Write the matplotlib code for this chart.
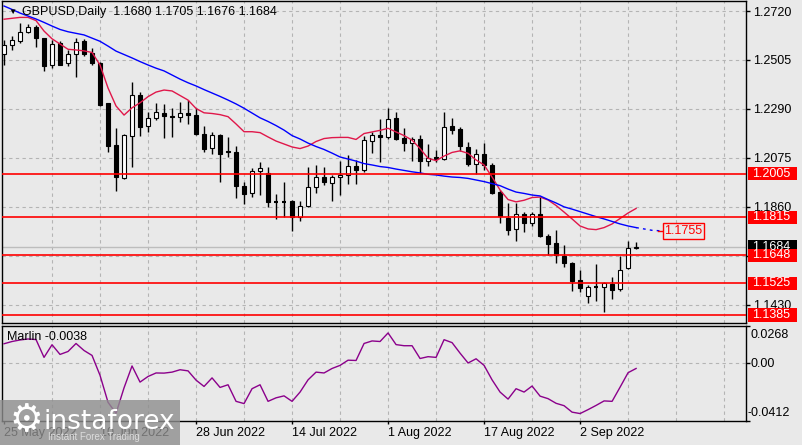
import matplotlib
matplotlib.use('Agg')
import matplotlib.pyplot as plt
from matplotlib.patches import Rectangle
import numpy as np

plt.rcParams['font.family'] = ['Liberation Sans', 'DejaVu Sans']

# GBPUSD daily, 25 May 2022 .. 13 Sep 2022 (one bar per trading day)
date_labels = ['25 May 2022', '10 Jun 2022', '28 Jun 2022', '14 Jul 2022',
               '1 Aug 2022', '17 Aug 2022', '2 Sep 2022']

opens = [1.2531, 1.2569, 1.2590, 1.2629, 1.2648, 1.2600, 1.2481, 1.2578, 1.2490, 1.2530,
         1.2590, 1.2537, 1.2493, 1.2315, 1.2132, 1.1985, 1.2172, 1.2351, 1.2215, 1.2249,
         1.2273, 1.2258, 1.2256, 1.2273, 1.2263, 1.2180, 1.2117, 1.2175, 1.2106, 1.2101,
         1.1951, 1.1919, 1.2016, 1.2007, 1.1884, 1.1884, 1.1884, 1.1817, 1.1864, 1.1946,
         1.1990, 1.1966, 1.1990, 1.1999, 1.2039, 1.2022, 1.2150, 1.2175, 1.2165, 1.2249,
         1.2161, 1.2142, 1.2156, 1.2062, 1.2077, 1.2070, 1.2215, 1.2200, 1.2121, 1.2048,
         1.2092, 1.2044, 1.1926, 1.1810, 1.1761, 1.1828, 1.1790, 1.1828, 1.1732, 1.1702,
         1.1644, 1.1615, 1.1539, 1.1470, 1.1508, 1.1509, 1.1521, 1.1498, 1.1590, 1.1680]
highs = [1.2593, 1.2610, 1.2666, 1.2663, 1.2659, 1.2603, 1.2593, 1.2590, 1.2549, 1.2600,
         1.2596, 1.2559, 1.2497, 1.2317, 1.2207, 1.2178, 1.2410, 1.2364, 1.2278, 1.2315,
         1.2312, 1.2293, 1.2322, 1.2329, 1.2293, 1.2215, 1.2190, 1.2180, 1.2165, 1.2127,
         1.1970, 1.2029, 1.2056, 1.2033, 1.1915, 1.1968, 1.1890, 1.1887, 1.2036, 1.2042,
         1.2036, 1.2000, 1.2062, 1.2088, 1.2066, 1.2171, 1.2190, 1.2244, 1.2293, 1.2278,
         1.2205, 1.2168, 1.2175, 1.2136, 1.2110, 1.2278, 1.2249, 1.2212, 1.2146, 1.2113,
         1.2139, 1.2052, 1.1934, 1.1875, 1.1875, 1.1839, 1.1839, 1.1904, 1.1741, 1.1758,
         1.1692, 1.1618, 1.1582, 1.1516, 1.1608, 1.1531, 1.1553, 1.1644, 1.1710, 1.1705]
lows = [1.2483, 1.2549, 1.2578, 1.2622, 1.2561, 1.2458, 1.2468, 1.2481, 1.2478, 1.2429,
        1.2522, 1.2483, 1.2303, 1.2102, 1.1931, 1.1982, 1.2036, 1.2171, 1.2190, 1.2241,
        1.2161, 1.2168, 1.2234, 1.2224, 1.2175, 1.2102, 1.2091, 1.1970, 1.2080, 1.1897,
        1.1872, 1.1905, 1.1912, 1.1860, 1.1805, 1.1817, 1.1755, 1.1798, 1.1860, 1.1922,
        1.1954, 1.1887, 1.1912, 1.1960, 1.1960, 1.2014, 1.2098, 1.2058, 1.2156, 1.2154,
        1.2106, 1.2062, 1.2007, 1.2039, 1.2058, 1.2066, 1.2180, 1.2106, 1.2039, 1.2004,
        1.2022, 1.1916, 1.1788, 1.1736, 1.1711, 1.1751, 1.1776, 1.1729, 1.1648, 1.1615,
        1.1594, 1.1492, 1.1487, 1.1439, 1.1448, 1.1399, 1.1455, 1.1492, 1.1585, 1.1676]
closes = [1.2571, 1.2593, 1.2629, 1.2648, 1.2600, 1.2480, 1.2575, 1.2484, 1.2531, 1.2585,
          1.2530, 1.2490, 1.2307, 1.2128, 1.1990, 1.2175, 1.2351, 1.2212, 1.2249, 1.2275,
          1.2260, 1.2254, 1.2271, 1.2262, 1.2178, 1.2115, 1.2174, 1.2093, 1.2099, 1.1953,
          1.1916, 1.2016, 1.2029, 1.1882, 1.1883, 1.1883, 1.1817, 1.1864, 1.1946, 1.1990,
          1.1970, 1.1992, 1.2000, 1.2039, 1.2022, 1.2153, 1.2175, 1.2168, 1.2244, 1.2158,
          1.2142, 1.2156, 1.2062, 1.2073, 1.2069, 1.2209, 1.2197, 1.2127, 1.2048, 1.2092,
          1.2044, 1.1922, 1.1820, 1.1758, 1.1828, 1.1790, 1.1828, 1.1732, 1.1697, 1.1648,
          1.1615, 1.1535, 1.1502, 1.1509, 1.1510, 1.1524, 1.1495, 1.1582, 1.1678, 1.1684]

ma_red = [1.2684, 1.2688, 1.2692, 1.2692, 1.2678, 1.2632, 1.2598, 1.2575, 1.2552, 1.2549,
          1.2545, 1.2538, 1.2483, 1.2382, 1.2303, 1.2263, 1.2295, 1.2317, 1.2344, 1.2364,
          1.2373, 1.2369, 1.2349, 1.2329, 1.2292, 1.2273, 1.2270, 1.2265, 1.2256, 1.2224,
          1.2190, 1.2190, 1.2186, 1.2167, 1.2149, 1.2136, 1.2123, 1.2116, 1.2127, 1.2147,
          1.2160, 1.2164, 1.2165, 1.2165, 1.2156, 1.2182, 1.2189, 1.2196, 1.2205, 1.2189,
          1.2173, 1.2153, 1.2116, 1.2073, 1.2063, 1.2083, 1.2099, 1.2106, 1.2095, 1.2066,
          1.2044, 1.1991, 1.1934, 1.1892, 1.1882, 1.1889, 1.1901, 1.1903, 1.1890, 1.1866,
          1.1837, 1.1807, 1.1776, 1.1763, 1.1760, 1.1769, 1.1785, 1.1809, 1.1833, 1.1853]
# blue MA is shifted 3 bars forward
ma_blue = [1.2742, 1.2727, 1.2711, 1.2698, 1.2685, 1.2670, 1.2654, 1.2639, 1.2629, 1.2622,
           1.2615, 1.2601, 1.2587, 1.2566, 1.2544, 1.2529, 1.2514, 1.2498, 1.2483, 1.2469,
           1.2457, 1.2439, 1.2421, 1.2405, 1.2391, 1.2375, 1.2360, 1.2345, 1.2329, 1.2312,
           1.2293, 1.2272, 1.2251, 1.2235, 1.2217, 1.2197, 1.2173, 1.2158, 1.2140, 1.2125,
           1.2112, 1.2096, 1.2079, 1.2070, 1.2061, 1.2050, 1.2044, 1.2037, 1.2033, 1.2026,
           1.2020, 1.2014, 1.2009, 1.2003, 1.2000, 1.1995, 1.1991, 1.1989, 1.1985, 1.1978,
           1.1971, 1.1962, 1.1953, 1.1938, 1.1925, 1.1919, 1.1912, 1.1908, 1.1892, 1.1877,
           1.1860, 1.1850, 1.1839, 1.1828, 1.1817, 1.1807, 1.1796, 1.1785, 1.1776, 1.1769,
           1.1763, 1.1757, 1.1755]

marlin = [0.0138, 0.0154, 0.0165, 0.0172, 0.0168, 0.0041, 0.0131, 0.0062, 0.0083, 0.0140,
          0.0090, 0.0055, -0.0087, -0.0279, -0.0357, -0.0176, -0.0020, -0.0135, -0.0095, -0.0070,
          -0.0071, -0.0064, -0.0047, -0.0055, -0.0121, -0.0166, -0.0105, -0.0173, -0.0154, -0.0272,
          -0.0288, -0.0182, -0.0154, -0.0272, -0.0247, -0.0233, -0.0272, -0.0206, -0.0119, -0.0064,
          -0.0070, -0.0038, -0.0016, 0.0021, 0.0019, 0.0140, 0.0158, 0.0154, 0.0215, 0.0132,
          0.0124, 0.0124, 0.0033, 0.0046, 0.0041, 0.0167, 0.0146, 0.0071, 0.0001, 0.0031,
          -0.0016, -0.0119, -0.0206, -0.0256, -0.0182, -0.0206, -0.0163, -0.0235, -0.0253, -0.0286,
          -0.0303, -0.0349, -0.0359, -0.0331, -0.0301, -0.0269, -0.0272, -0.0171, -0.0068, -0.0038]

levels = [1.2005, 1.1815, 1.1648, 1.1525, 1.1385]
bid = 1.1684
ma_label = 1.1755
price_ticks = [1.1430, 1.1645, 1.1860, 1.2075, 1.2290, 1.2505, 1.2720]
price_tick_labels = ['1.1430', '', '1.1860', '1.2075', '1.2290', '1.2505', '1.2720']

W, H = 803, 445
bg = '#e9e9e9'
fig = plt.figure(figsize=(W / 100, H / 100), dpi=100, facecolor=bg)


def px_axes(x0, y0, x1, y1):
    return fig.add_axes([x0 / W, 1 - y1 / H, (x1 - x0) / W, (y1 - y0) / H])


ax = px_axes(2.5, 1, 746.5, 323)
ax2 = px_axes(2.5, 325.5, 746.5, 421)
for a in (ax, ax2):
    a.set_facecolor(bg)
    for s in a.spines.values():
        s.set_color('black')
        s.set_linewidth(1)
    a.set_xlim(-0.19, 92.8)
    for g in range(6, 93, 6):
        a.axvline(g, color='#b4b4b4', ls=(0, (3, 3)), lw=0.8, zorder=0)

n = len(opens)
x = np.arange(n)
o = np.array(opens); c = np.array(closes); h = np.array(highs); l = np.array(lows)

# candles
ax.vlines(x, l, h, color='black', lw=1, zorder=3)
up = c >= o
body_lo = np.minimum(o, c)
body_h = np.abs(c - o)
doji = body_h < 0.00035
ax.bar(x[~doji], body_h[~doji], bottom=body_lo[~doji], width=0.5,
       color=np.where(up[~doji], 'white', 'black'), edgecolor='black', lw=0.8, zorder=3)
ax.hlines(c[doji], x[doji] - 0.3, x[doji] + 0.3, color='black', lw=1.5, zorder=3)

# moving averages
ax.plot(x, ma_red, color='#e0174a', lw=1, zorder=4)
xb = np.arange(len(ma_blue))
ax.plot(xb[:n], ma_blue[:n], color='#0000ff', lw=1, zorder=4)
ax.plot(xb[n - 1:], ma_blue[n - 1:], color='#0000ff', lw=1, ls=(0, (2, 3)), zorder=4)
ax.plot([xb[-1] - 0.2, xb[-1] + 0.45], [ma_label, ma_label], color='red', lw=1, zorder=6)
ax.text(xb[-1] + 0.55, ma_label, f'{ma_label:.4f}', color='red', fontsize=9,
        va='center', ha='left', zorder=7,
        bbox=dict(boxstyle='square,pad=0.15', fc=bg, ec='red', lw=1))

# levels
ax.axhline(bid, color='#bdbdbd', lw=1, zorder=2)
for lv in levels:
    ax.axhline(lv, color='#ff0000', lw=1.2, zorder=5)

ax.set_ylim(1.1350, 1.2764)
ax.set_xticks([])
ax.yaxis.tick_right()
ax.set_yticks(price_ticks)
ax.set_yticklabels(price_tick_labels)
ax.tick_params(axis='y', length=3, width=1, pad=1.5, labelsize=9)
ax.grid(axis='y', color='#b4b4b4', ls=(0, (3, 3)), lw=0.8)
ax.set_axisbelow(True)

ytr = ax.get_yaxis_transform()
box_x = (748 - 2.5) / 744
box_w = 49 / 744
box_h = 0.0058
ax.add_patch(Rectangle((box_x, bid - box_h / 2), box_w, box_h, transform=ytr,
                       fc='black', ec='none', clip_on=False, zorder=6))
ax.text(box_x + 0.006, bid, f'{bid:.4f}', transform=ytr, color='white', fontsize=9,
        va='center', ha='left', clip_on=False, zorder=7)
for lv in levels:
    ax.add_patch(Rectangle((box_x, lv - box_h / 2), box_w, box_h, transform=ytr,
                           fc='#ff0000', ec='none', clip_on=False, zorder=8))
    ax.text(box_x + 0.006, lv, f'{lv:.4f}', transform=ytr, color='white', fontsize=9,
            va='center', ha='left', clip_on=False, zorder=9)

# Marlin panel
ax2.plot(x, marlin, color='#8b008b', lw=1, zorder=3)
ax2.axhline(0, color='#b4b4b4', ls=(0, (3, 3)), lw=0.8, zorder=0)
ax2.set_ylim(-0.0412, 0.0268)
ax2.yaxis.tick_right()
ax2.set_yticks([-0.0412, 0.0, 0.0268])
ax2.set_yticklabels(['', '', ''])
ax2.tick_params(axis='y', length=3, width=1)
ax2.set_xticks(np.arange(0, 73, 12))
ax2.set_xticklabels(date_labels, fontsize=9)
for t in ax2.get_xticklabels():
    t.set_ha('left')
ax2.tick_params(axis='x', length=2.5, width=1, pad=2)

fig.text(751 / W, 1 - 335 / H, '0.0268', fontsize=9, va='center', ha='left')
fig.text(751 / W, 1 - 364 / H, '0.00', fontsize=9, va='center', ha='left')
fig.text(748 / W, 1 - 413 / H, '-0.0412', fontsize=9, va='center', ha='left')
fig.text(7 / W, 1 - 337 / H, 'Marlin -0.0038', fontsize=9, va='center', ha='left')

# title
fig.text(8 / W, 1 - 12 / H, '\u25bc', fontsize=6, va='center', ha='left')
fig.text(22 / W, 1 - 12 / H, 'GBPUSD,Daily  1.1680 1.1705 1.1676 1.1684',
         fontsize=9, va='center', ha='left')

# watermark
fig.patches.append(Rectangle((0, 0), 180 / W, 45 / H, transform=fig.transFigure,
                             fc='#8e8e8e', ec='none', alpha=0.8, zorder=10))
fig.text(26 / W, 1 - 421 / H, '\u2699', fontsize=27, color='white', va='center',
         ha='center', zorder=11, family='DejaVu Sans')
fig.text(44 / W, 1 - 429 / H, 'instaforex', fontsize=19, color='white',
         va='baseline', ha='left', zorder=11, family='DejaVu Sans')
fig.text(48 / W, 1 - 437 / H, 'Instant Forex Trading', fontsize=7, color='#dcdcdc',
         va='center', ha='left', zorder=11)

fig.savefig('out.png', dpi=100, facecolor=bg)
